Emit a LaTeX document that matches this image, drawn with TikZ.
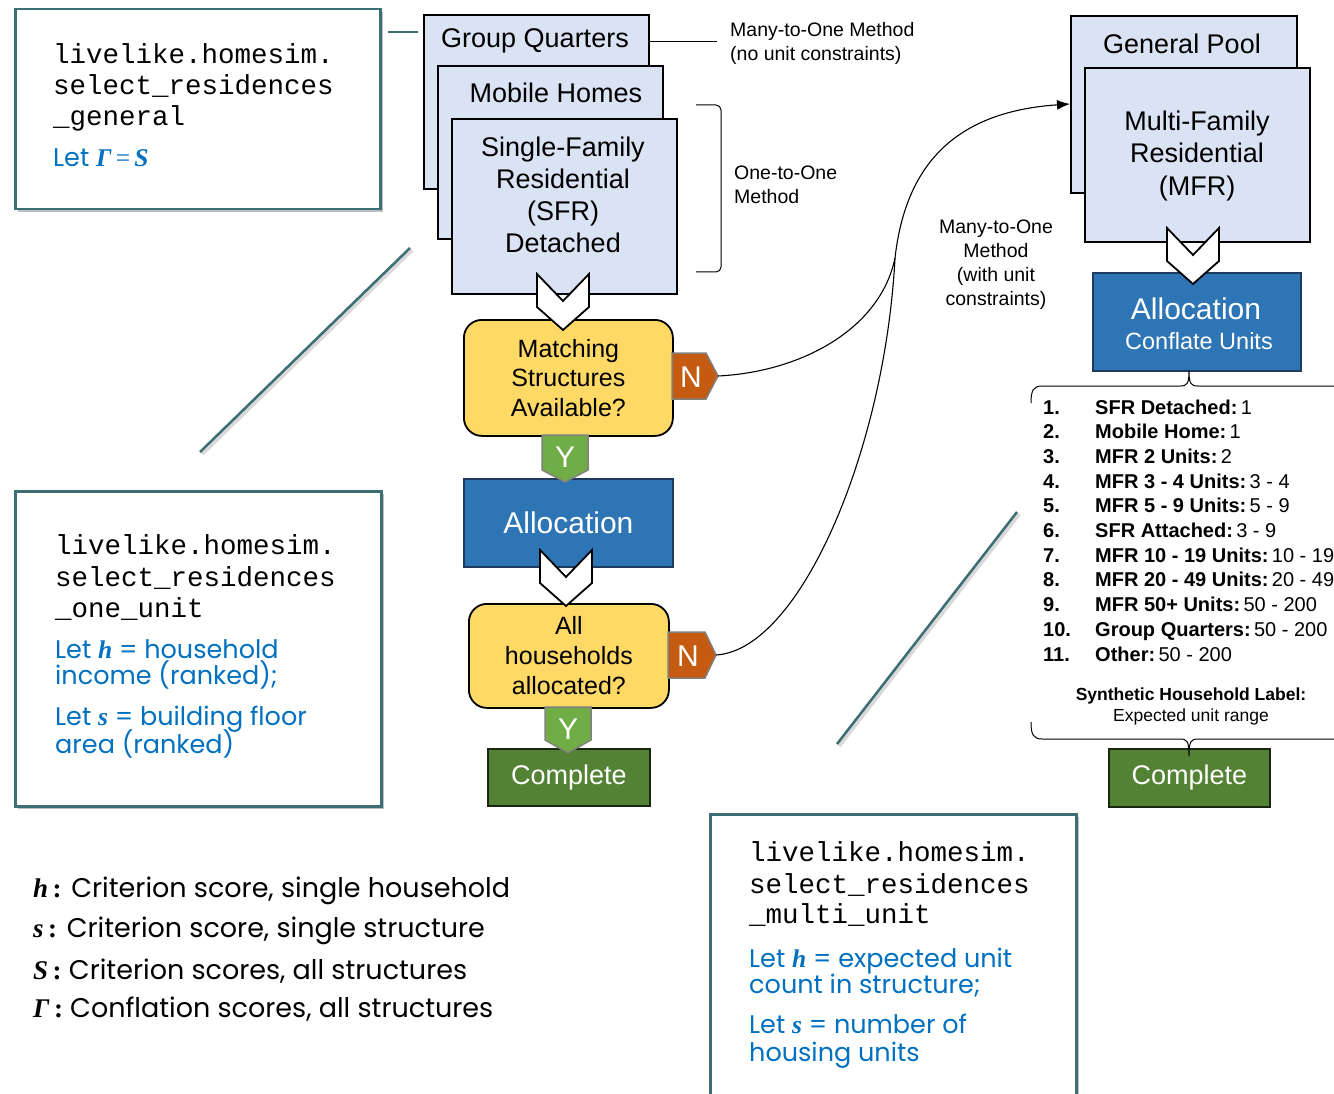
\documentclass[tikz,border=0pt]{standalone}
\usepackage{fontspec}
\setmainfont{Liberation Sans}
\newfontfamily\gothic{Poppins}
\newfontfamily\mono{Liberation Mono}
\newfontfamily\tim{Liberation Serif}
\usetikzlibrary{shadows,arrows.meta}
\definecolor{lblue}{HTML}{DAE3F3}
\definecolor{yel}{HTML}{FFD966}
\definecolor{ablue}{HTML}{2E75B6}
\definecolor{ablueb}{HTML}{1F3A5F}
\definecolor{orng}{HTML}{C55A11}
\definecolor{grn}{HTML}{70AD47}
\definecolor{dgrn}{HTML}{548235}
\definecolor{tealb}{RGB}{60,110,115}
\definecolor{txtblue}{HTML}{0070C0}
\newcommand\fsz[2]{\fontsize{#1}{#2}\selectfont}
\newcommand\bi{\tim\bfseries\itshape}
\newcommand\chevr[2]{\path[chevron] (#1,#2) -- ++(26,27) -- ++(26,-27) -- ++(0,33) -- ++(-26,23) -- ++(-26,-23) -- cycle;}
\tikzset{
 sbox/.style={draw=black, line width=1.8pt, fill=lblue, inner sep=0, anchor=north west},
 dec/.style={draw=black, line width=1.8pt, fill=yel, rounded corners=18pt, inner sep=0, anchor=north west, align=center, font=\fsz{25}{29.5}},
 abox/.style={draw=ablueb, line width=1.8pt, fill=ablue, inner sep=0, anchor=north west, text=white},
 cbox/.style={draw=black!70!dgrn, line width=1.8pt, fill=dgrn, inner sep=0, anchor=north west, text=white, font=\fsz{27}{30}},
 tbox/.style={draw=tealb, line width=2.5pt, fill=white, inner sep=0, anchor=north west,
   drop shadow={shadow xshift=3pt, shadow yshift=-3pt, opacity=0.25, fill=black}},
 ftxt/.style={font=\fsz{27}{32}, inner sep=0, align=center},
 lbl/.style={font=\fsz{19.5}{24}, align=left, inner sep=0},
 tagtxt/.style={text=white, font=\fsz{30}{30}, inner sep=0},
 chevron/.style={fill=white, draw=black, line width=1.8pt, line join=miter},
 tagN/.style={fill=orng, draw=gray, line width=1.5pt},
 tagY/.style={fill=grn, draw=gray, line width=1.5pt},
 tline/.style={draw=tealb, line width=2.5pt},
 tshadow/.style={draw=black, opacity=0.15, line width=4pt},
 conn/.style={draw=black, line width=1.1pt},
 brc/.style={draw=black, line width=1pt},
 mtxt/.style={font=\mono\fsz{27.5}{31}, anchor=base west, inner sep=0},
 btxt/.style={font=\gothic\fsz{25.5}{30}, text=txtblue, anchor=base west, inner sep=0},
 legtxt/.style={font=\gothic\fsz{27}{32}, anchor=base west, inner sep=0},
 ltxt/.style={font=\fsz{20}{24}, anchor=base west, inner sep=0},
}
\begin{document}
\begin{tikzpicture}[x=1pt,y=-1pt]
\path[use as bounding box, fill=white] (0,0) rectangle (1334,1094);
\clip (0,0) rectangle (1334,1094);

% ---------- teal callout lines ----------
\coordinate (ta1) at (388,32); \coordinate (ta2) at (418,32);
\coordinate (tb1) at (410,248); \coordinate (tb2) at (200,452);
\coordinate (tc1) at (1017,512); \coordinate (tc2) at (837,744);
\draw[tshadow] ([shift={(2,2)}]tb1) -- ([shift={(2,2)}]tb2);
\draw[tshadow] ([shift={(2,2)}]tc1) -- ([shift={(2,2)}]tc2);
\draw[tline] (ta1) -- (ta2);
\draw[tline] (tb1) -- (tb2);
\draw[tline] (tc1) -- (tc2);

% ---------- teal text boxes ----------
\node[tbox, minimum width=365, minimum height=200] (gen) at (14,8) {};
\node[mtxt] (g1) at (53,63.5) {livelike.homesim.};
\node[mtxt] (g2) at (53,95) {select\_residences};
\node[mtxt] (g3) at (53,126) {\_general};
\node[btxt] (g4) at (53,167) {Let {\bi Γ\,{\tim\mdseries\upshape =}\,S}};

\node[tbox, minimum width=366, minimum height=315] (one) at (14,490) {};
\node[mtxt] (o1) at (55,554) {livelike.homesim.};
\node[mtxt] (o2) at (55,586) {select\_residences};
\node[mtxt] (o3) at (55,617) {\_one\_unit};
\node[btxt] (o4) at (55,658) {Let {\bi h} = household};
\node[btxt] (o5) at (55,684) {income (ranked);};
\node[btxt] (o6) at (55,725) {Let {\bi s} = building floor};
\node[btxt] (o7) at (55,753) {area (ranked)};

\node[tbox, minimum width=366, minimum height=300] (multi) at (709,813) {};
\node[mtxt] (m1) at (749,861) {livelike.homesim.};
\node[mtxt] (m2) at (749,893) {select\_residences};
\node[mtxt] (m3) at (749,923) {\_multi\_unit};
\node[btxt] (m4) at (749,967) {Let {\bi h} = expected unit};
\node[btxt] (m5) at (749,993) {count in structure;};
\node[btxt] (m6) at (749,1033) {Let {\bi s} = number of};
\node[btxt] (m7) at (749,1061) {housing units};

% ---------- legend ----------
\node[legtxt] (l1) at (33,897) {{\bi h}{\tim\bfseries\,:} Criterion score, single household};
\node[legtxt] (l2) at (33,937) {{\bi s}{\tim\bfseries\,:} Criterion score, single structure};
\node[legtxt] (l3) at (33,979) {{\bi S}{\tim\bfseries\,:} Criterion scores, all structures};
\node[legtxt] (l4) at (33,1017) {{\bi Γ}{\tim\bfseries\,:} Conflation scores, all structures};

% ---------- left flow ----------
\node[sbox, minimum width=225, minimum height=174] (gq) at (423,14) {};
\node[ftxt] (gqt) at (535,41) {Group Quarters};
\node[sbox, minimum width=225, minimum height=173] (mh) at (437,65) {};
\node[ftxt] (mht) at (556,93) {Mobile Homes};
\node[sbox, minimum width=225, minimum height=175] (sfr) at (451,118) {};
\node[ftxt] (sfrt) at (563,195) {Single-Family\\Residential\\(SFR)\\Detached};

\node[dec, minimum width=209, minimum height=116] (match) at (463,319) {Matching\\Structures\\Available?};
\chevr{537}{274}
\path[tagN] (672,353) -- (706,353) -- (718,376) -- (706,399) -- (672,399) -- cycle;
\node[tagtxt] (nA) at (691,377) {N};
\coordinate (n1) at (718,376);

\node[abox, minimum width=209, minimum height=88, font=\fsz{30}{30}] (alloc) at (463,478) {Allocation};
\path[tagY] (542,435) -- (588,435) -- (588,470) -- (565,482) -- (542,470) -- cycle;
\node[tagtxt] (yA) at (565,457) {Y};

\node[dec, minimum width=200, minimum height=104, font=\fsz{25}{30}] (alld) at (468,603) {All\\households\\allocated?};
\chevr{540}{550}
\path[tagN] (668,632) -- (705,632) -- (716,655) -- (705,678) -- (668,678) -- cycle;
\node[tagtxt] (nB) at (688,656) {N};
\coordinate (n2) at (716,655);

\node[cbox, minimum width=162, minimum height=57] (comp1) at (487,748) {Complete};
\path[tagY] (545,707) -- (591,707) -- (591,740) -- (568,753) -- (545,740) -- cycle;
\node[tagtxt] (yB) at (568,729) {Y};

% labels and bracket
\coordinate (gqr) at (648,41); \coordinate (mlab) at (717,41);
\draw[conn, line width=0.8pt] (gqr) -- (mlab);
\node[lbl, anchor=west] (lab1) at (730,43) {Many-to-One Method\\(no unit constraints)};
\coordinate (bk1) at (696,105); \coordinate (bk2) at (696,272);
\draw[brc, rounded corners=5pt] (bk1) -| (721,272) -- (bk2);
\node[lbl, anchor=west] (lab2) at (734,185) {One-to-One\\Method};
\node[lbl, align=center] (lab3) at (996,265) {Many-to-One\\Method\\(with unit\\constraints)};

% ---------- right flow ----------
\node[sbox, minimum width=226, minimum height=177] (gp) at (1070,15) {};
\node[ftxt] (gpt) at (1182,44) {General Pool};
\node[sbox, minimum width=225, minimum height=174] (mfr) at (1084,67) {};
\node[ftxt, font=\fsz{27}{32.5}] (mfrt) at (1197,156) {Multi-Family\\Residential\\(MFR)};
\node[abox, minimum width=208, minimum height=98] (alloc2) at (1092,272) {};
\node[text=white, font=\fsz{30}{30}, inner sep=0] (al2a) at (1196,309) {Allocation};
\node[text=white, font=\fsz{23.5}{28}, inner sep=0] (al2b) at (1199,341) {Conflate Units};
\chevr{1167}{228}

% curves
\coordinate (j) at (895,258);
\coordinate (gpin) at (1070,104);
\draw[conn, -{Latex[length=13pt,width=10pt]}] (n1) .. controls (800,372) and (880,330) .. (j) .. controls (905,170) and (950,112) .. (gpin);
\draw[conn] (n2) .. controls (800,650) and (885,450) .. (j);

% braces
\draw[brc] (1031,403) .. controls (1031,391) and (1033,386) .. (1042,386) -- (1180,386)
  .. controls (1187,386) and (1189,384) .. (1189,371) .. controls (1189,384) and (1191,386) .. (1198,386) -- (1345,386);

\node[cbox, minimum width=161, minimum height=58] (comp2) at (1108,748) {Complete};
\draw[brc] (1031,722) .. controls (1031,734) and (1033,739) .. (1042,739) -- (1180,739)
  .. controls (1187,739) and (1189,741) .. (1189,756) .. controls (1189,741) and (1191,739) .. (1198,739) -- (1345,739);

% list
\foreach \lab/\val [count=\i] in {SFR Detached/1,Mobile Home/1,MFR 2 Units/2,MFR 3 - 4 Units/3 - 4,MFR 5 - 9 Units/5 - 9,SFR Attached/3 - 9,MFR 10 - 19 Units/10 - 19,MFR 20 - 49 Units/20 - 49,MFR 50+ Units/50 - 200,Group Quarters/50 - 200,Other/50 - 200}{
  \pgfmathsetmacro\yy{414+24.7*(\i-1)}
  \node[ltxt, font=\fsz{20}{24}\bfseries] (num\i) at (1043,\yy) {\i.};
  \node[ltxt] (item\i) at (1095,\yy) {\textbf{\lab:}\,\val};
}
\node[inner sep=0, font=\fsz{17.5}{21}\bfseries] (syn1) at (1191,696) {Synthetic Household Label:};
\node[inner sep=0, font=\fsz{17.5}{21}] (syn2) at (1191,717) {Expected unit range};
\end{tikzpicture}
\end{document}
